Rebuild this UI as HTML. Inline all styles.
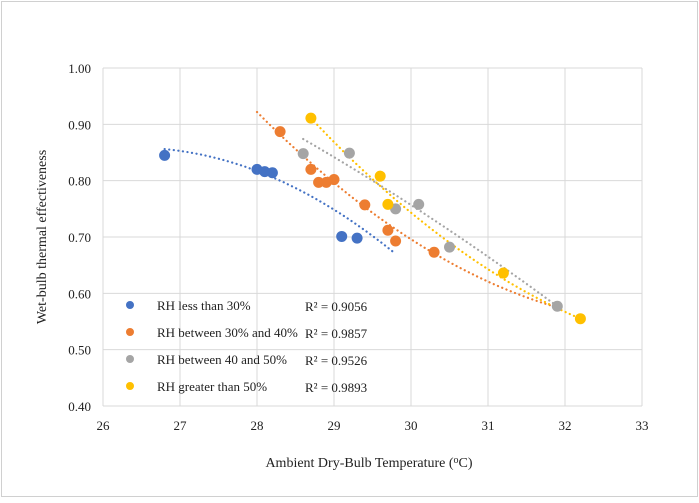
<!DOCTYPE html>
<html><head><meta charset="utf-8"><style>
body{margin:0;background:#fff}
svg text{font-family:"Liberation Serif",serif;fill:#222}
</style></head><body>
<svg id="chart" width="699" height="498" xmlns="http://www.w3.org/2000/svg">
<rect x="1.5" y="1.5" width="696" height="495" fill="#fff" stroke="#d0d0d0"/>
<g id="grid"></g><g id="trends"></g><g id="pts"></g><g id="legend"></g>
<text x="369" y="467" text-anchor="middle" font-size="14">Ambient Dry-Bulb Temperature (<tspan font-size="10" dy="-4">o</tspan><tspan dy="4">C)</tspan></text>
<text transform="translate(46,237) rotate(-90)" text-anchor="middle" font-size="14">Wet-bulb thermal effectiveness</text>
</svg>
<script>
const xTicks=[26,27,28,29,30,31,32,33];
const yTicks=[0.40,0.50,0.60,0.70,0.80,0.90,1.00];
const seriesNames=["RH less than 30%","RH between 30% and 40%","RH between 40 and 50%","RH greater than 50%"];
const r2Labels=["R² = 0.9056","R² = 0.9857","R² = 0.9526","R² = 0.9893"];
const colors=["#4472c4","#ed7d31","#a5a5a5","#ffc000"];
const blueX=[26.8,28.0,28.1,28.2,29.1,29.3];
const blueY=[0.845,0.820,0.816,0.814,0.701,0.698];
const orangeX=[28.3,28.7,28.8,28.9,29.0,29.4,29.7,29.8,30.3];
const orangeY=[0.887,0.820,0.797,0.797,0.802,0.757,0.712,0.693,0.673];
const grayX=[28.6,29.2,29.8,30.1,30.5,31.9];
const grayY=[0.848,0.849,0.750,0.758,0.682,0.577];
const yellowX=[28.7,29.6,29.7,31.2,32.2];
const yellowY=[0.911,0.808,0.758,0.636,0.555];
// trendline values: start, middle, end
const blueTrendX=[26.8,28.3,29.8];const blueTrendY=[0.856,0.800,0.670];
const orangeTrendX=[28.0,29.5,31.9];const orangeTrendY=[0.922,0.743,0.575];
const grayTrendX=[28.6,30.2,31.9];const grayTrendY=[0.874,0.739,0.577];
const yellowTrendX=[28.7,30.45,32.2];const yellowTrendY=[0.911,0.695,0.555];
const X=v=>103+(v-26)*77;
const Y=v=>406-(v-0.4)*563.3;
const NS="http://www.w3.org/2000/svg";
function mk(t,a,p){const e=document.createElementNS(NS,t);for(const k in a)e.setAttribute(k,a[k]);p.appendChild(e);return e;}
const grid=document.getElementById('grid');
yTicks.forEach(v=>{
 const l=mk('line',{x1:X(26),x2:X(33),y1:Y(v),y2:Y(v),stroke:'#d9d9d9','stroke-width':1},grid);
 
 
 const t=mk('text',{x:X(26)-12,y:Y(v)+5,'text-anchor':'end','font-size':13},grid);t.textContent=v.toFixed(2);
 
 
});
xTicks.forEach(v=>{
 const l=mk('line',{x1:X(v),x2:X(v),y1:Y(1.0),y2:Y(0.4),stroke:'#d9d9d9','stroke-width':1},grid);
 
 
 const t=mk('text',{x:X(v),y:Y(0.4)+24,'text-anchor':'middle','font-size':13},grid);t.textContent=v;
 
 
});
function quad(xs,ys){return x=>{let s=0;for(let i=0;i<3;i++){let p=ys[i];for(let j=0;j<3;j++)if(j!==i)p*=(x-xs[j])/(xs[i]-xs[j]);s+=p;}return s;};}
const allX=[blueX,orangeX,grayX,yellowX],allY=[blueY,orangeY,grayY,yellowY];
const tX=[blueTrendX,orangeTrendX,grayTrendX,yellowTrendX],tY=[blueTrendY,orangeTrendY,grayTrendY,yellowTrendY];
const tr=document.getElementById('trends'),pts=document.getElementById('pts'),lg=document.getElementById('legend');
const names=['blue','orange','gray','yellow'];
for(let s=0;s<4;s++){
 const f=quad(tX[s],tY[s]);const a=tX[s][0],b=tX[s][2];let d='';
 for(let i=0;i<=60;i++){const x=a+(b-a)*i/60;d+=(i?'L':'M')+X(x).toFixed(1)+','+Y(f(x)).toFixed(1);}
 const p=mk('path',{d:d,fill:'none',stroke:colors[s],'stroke-width':2.2,'stroke-dasharray':'0.1 4.5','stroke-linecap':'round'},tr);
 
 
 allX[s].forEach((x,i)=>{
  const c=mk('circle',{cx:X(x),cy:Y(allY[s][i]),r:5.5,fill:colors[s]},pts);
  
  
 });
 const ly=305+s*27;
 const m=mk('circle',{cx:130,cy:ly,r:4,fill:colors[s]},lg);
 
 
 const t=mk('text',{x:157,y:ly+5,'font-size':13},lg);t.textContent=seriesNames[s];
 
 
 const r=mk('text',{x:305,y:ly+6,'font-size':13},lg);r.textContent=r2Labels[s];
 
 
}
</script>
</body></html>
